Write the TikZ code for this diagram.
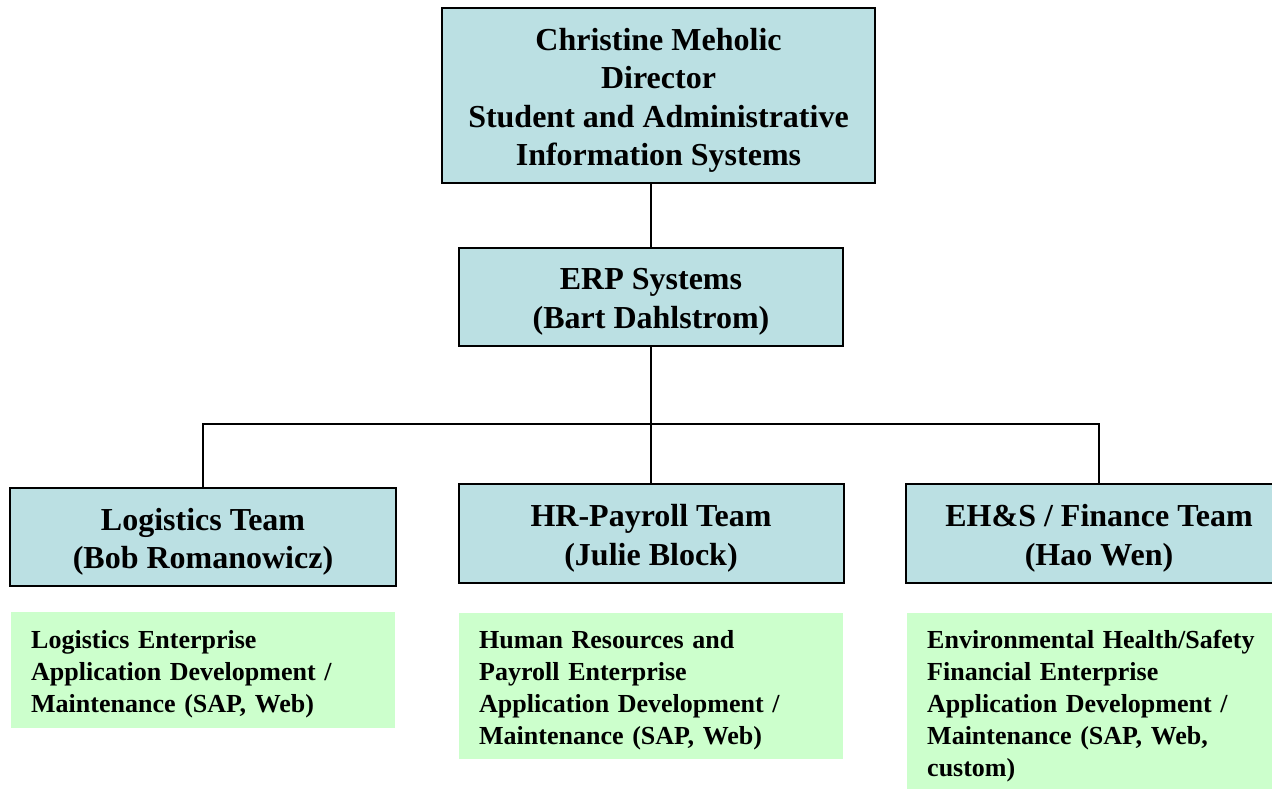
\documentclass[tikz,border=0pt]{standalone}
\usepackage{fontspec}
\setmainfont{Liberation Serif}
\definecolor{boxblue}{HTML}{BBE0E3}
\definecolor{boxgreen}{HTML}{CCFFCC}
\begin{document}
\begin{tikzpicture}[x=1pt,y=-1pt,
  bluebox/.style={draw=black,line width=2pt,fill=boxblue,rectangle,inner sep=0pt},
  bluetext/.style={inner sep=0pt,align=center,
    font=\fontsize{32}{38.5}\selectfont\bfseries},
  greenbox/.style={draw=none,fill=boxgreen},
  greentext/.style={anchor=north west,inner sep=0pt,align=left,text width=380pt,
    font=\fontsize{26}{32}\selectfont\bfseries},
  conn/.style={draw=black,line width=2pt}]
\clip (0,0) rectangle (1272,789);
\fill[white] (0,0) rectangle (1272,789);
% blue boxes
\node[bluebox,minimum width=433pt,minimum height=175pt] (top) at (658.5,95.5) {};
\node[bluebox,minimum width=384pt,minimum height=98pt] (erp) at (651,297) {};
\node[bluebox,minimum width=386pt,minimum height=98pt] (log) at (203,537) {};
\node[bluebox,minimum width=385pt,minimum height=99pt] (hr) at (651,533.5) {};
\node[bluebox,minimum width=386pt,minimum height=99pt] (ehs) at (1099,533.5) {};
\node[bluetext] (topt) at ([yshift=-5pt]top.center)
  {Christine Meholic\\Director\\Student and Administrative\\Information Systems};
\node[bluetext] (erpt) at ([yshift=-5pt]erp.center) {ERP Systems\\(Bart Dahlstrom)};
\node[bluetext] (logt) at ([yshift=-5pt]log.center) {Logistics Team\\(Bob Romanowicz)};
\node[bluetext] (hrt) at ([yshift=-5pt]hr.center) {HR-Payroll Team\\(Julie Block)};
\node[bluetext] (ehst) at ([yshift=-5pt]ehs.center) {EH\&S / Finance Team\\(Hao Wen)};
% green boxes
\fill[greenbox] (11,612) rectangle (395,728);
\fill[greenbox] (459,613) rectangle (843,759);
\fill[greenbox] (907,613) rectangle (1295,800);
\node[greentext] (glog) at (31,630)
  {Logistics Enterprise\\Application Development /\\Maintenance (SAP, Web)};
\node[greentext] (ghr) at (479,630)
  {Human Resources and\\Payroll Enterprise\\Application Development /\\Maintenance (SAP, Web)};
\node[greentext] (gehs) at (927,630)
  {Environmental Health/Safety\\Financial Enterprise\\Application Development /\\Maintenance (SAP, Web,\\custom)};
% connectors
\coordinate (j) at (651,424);
\draw[conn] (erp.north) -- (erp.north |- top.south);
\draw[conn] (erp.south) -- (hr.north);
\draw[conn] (log.north) |- (j) -| (ehs.north);
\end{tikzpicture}
\end{document}
